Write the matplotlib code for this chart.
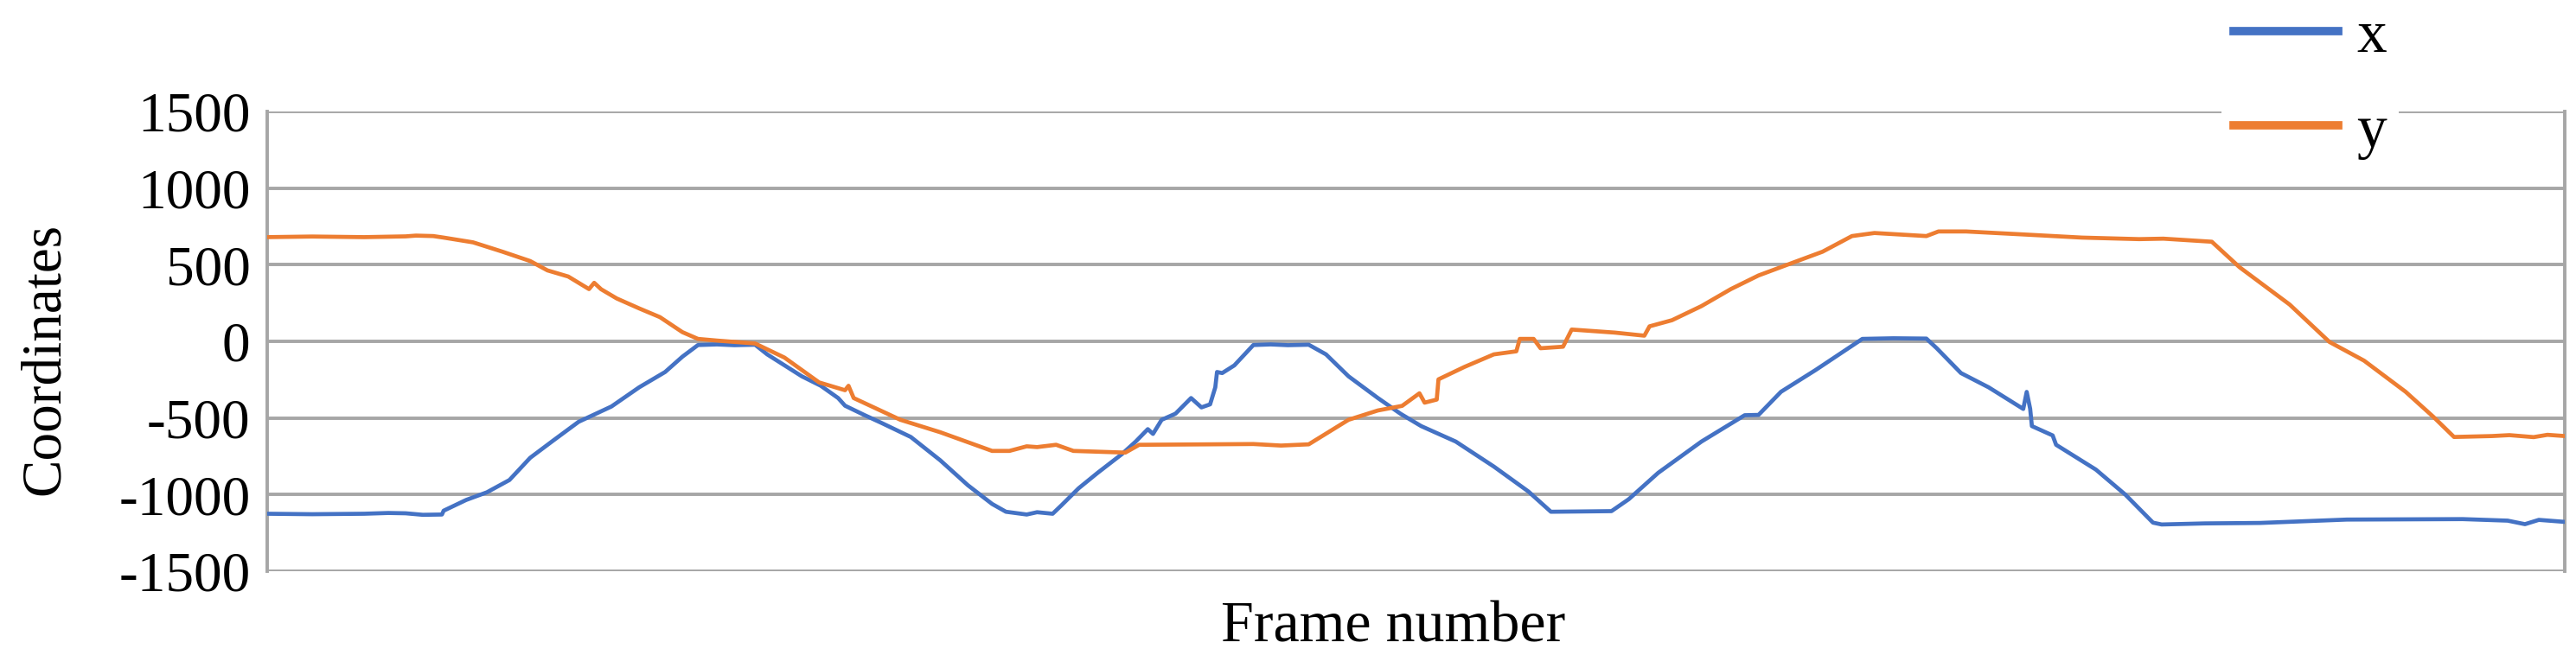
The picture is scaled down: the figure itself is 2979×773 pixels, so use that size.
import matplotlib
matplotlib.use('Agg')
import matplotlib.pyplot as plt

plt.rcParams['font.family'] = ['Liberation Serif', 'DejaVu Serif']

# values (frame number, coordinate)
x_frames = [0, 26, 56, 70, 80, 90, 101, 102, 115, 127, 140, 152, 165, 180, 199, 215,
            230, 240, 249, 260, 270, 282, 289, 309, 320, 330, 334, 345, 355, 372, 389,
            405, 419, 427, 439, 445, 454, 459, 469, 480, 494, 502, 509, 512, 517, 525,
            534, 540, 545, 548, 549, 552, 559, 570, 580, 590, 602, 612, 625, 642, 655,
            667, 687, 709, 729, 742, 760, 777, 787, 804, 829, 854, 862, 875, 895, 922,
            940, 959, 965, 979, 995, 1015, 1017, 1019, 1020, 1032, 1034, 1057, 1074,
            1090, 1095, 1120, 1152, 1202, 1269, 1295, 1305, 1313, 1328]
x_values = [-1125, -1128, -1125, -1120, -1122, -1132, -1130, -1105, -1035, -985, -905,
            -760, -650, -525, -425, -300, -200, -100, -24, -20, -25, -22, -85, -228,
            -290, -370, -420, -480, -532, -624, -776, -939, -1061, -1112, -1130, -1115,
            -1125, -1071, -959, -858, -736, -654, -573, -604, -512, -472, -370, -431,
            -411, -300, -200, -207, -157, -24, -20, -25, -22, -85, -228, -370, -472,
            -553, -654, -817, -980, -1112, -1110, -1108, -1030, -858, -654, -482, -480,
            -329, -187, 16, 20, 18, -45, -207, -300, -441, -330, -440, -553, -614, -675,
            -837, -1000, -1183, -1195, -1188, -1185, -1163, -1160, -1170, -1193, -1165,
            -1178]

y_frames = [0, 26, 56, 80, 86, 96, 102, 119, 136, 152, 162, 174, 186, 189, 193, 202,
            215, 227, 240, 249, 260, 282, 299, 319, 334, 336, 339, 366, 389, 419, 429,
            439, 445, 456, 466, 496, 504, 545, 570, 586, 602, 625, 642, 656, 666, 669,
            676, 677, 692, 709, 722, 724, 732, 736, 749, 754, 779, 796, 799, 812, 829,
            846, 862, 882, 899, 916, 929, 959, 966, 982, 1016, 1049, 1082, 1096, 1124,
            1140, 1169, 1192, 1202, 1212, 1236, 1252, 1264, 1286, 1296, 1310, 1318, 1328]
y_values = [680, 684, 680, 685, 690, 687, 677, 646, 585, 524, 463, 423, 341, 382, 340,
            280, 215, 158, 60, 16, 5, -14, -106, -268, -319, -290, -370, -512, -593,
            -715, -715, -685, -690, -675, -715, -726, -675, -672, -670, -680, -672, -512,
            -451, -421, -339, -400, -380, -248, -167, -85, -65, 16, 16, -45, -35, 77, 57,
            37, 98, 138, 230, 341, 430, 514, 585, 687, 707, 687, 717, 717, 697, 677, 667,
            670, 650, 484, 240, -4, -65, -126, -329, -492, -624, -618, -612, -625, -610,
            -618]

y_ticks = [-1500, -1000, -500, 0, 500, 1000, 1500]

fig = plt.figure(figsize=(29.79, 7.73), dpi=100)
ax = fig.add_axes([309 / 2979, 1 - 661 / 773, (2966 - 309) / 2979, (661 - 129) / 773])

grid_col = '#a6a6a6'
for v in y_ticks:
    ax.axhline(v, color=grid_col, lw=2.8, zorder=1)

ax.plot(x_frames, x_values, color='#4472c4', lw=3.4, label='x', zorder=3)
ax.plot(y_frames, y_values, color='#ed7d31', lw=3.4, label='y', zorder=3)

ax.set_xlim(0, 1328)
ax.set_ylim(-1500, 1500)
ax.set_yticks(y_ticks)
ax.set_yticklabels([str(v) for v in y_ticks])
ax.set_xticks([])
ax.tick_params(axis='y', length=0, pad=14, labelsize=47)
for side in ['top', 'bottom']:
    ax.spines[side].set_visible(False)
for side in ['left', 'right']:
    ax.spines[side].set_color(grid_col)
    ax.spines[side].set_linewidth(2.8)

fig.text(52 / 2979, 1 - 415 / 773, 'Coordinates', rotation=90, ha='center',
         va='center', fontsize=47)
fig.text(1611 / 2979, 1 - 726 / 773, 'Frame number', ha='center', va='center',
         fontsize=49)

leg = fig.legend(loc='center left', bbox_to_anchor=(2569 / 2979, 1 - 98 / 773),
                 frameon=True, fontsize=50, handlelength=1.75, handletextpad=0.3,
                 labelspacing=0.66, borderpad=0.2, borderaxespad=0)
leg.get_frame().set_facecolor('white')
leg.get_frame().set_edgecolor('none')
leg.get_frame().set_alpha(1)
for h in leg.legend_handles:
    h.set_linewidth(7)

fig.savefig('out.png', dpi=100, facecolor='white')
